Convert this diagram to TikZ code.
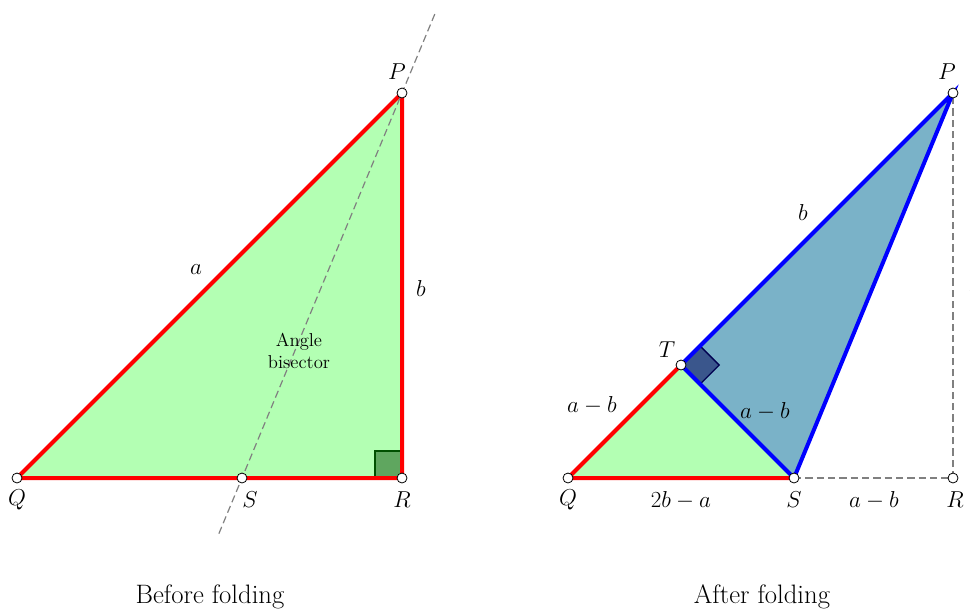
\documentclass[tikz,border=0pt]{standalone}
\usepackage{tikz}
\usetikzlibrary{calc}

\definecolor{paleGreen}{RGB}{179,255,179}
\definecolor{markGreen}{RGB}{95,166,95}
\definecolor{markGreenDark}{RGB}{0,80,0}
\definecolor{paleBlue}{RGB}{122,178,200}
\definecolor{markBlue}{RGB}{58,86,140}
\definecolor{markBlueDark}{RGB}{0,0,80}

\begin{document}
\begin{tikzpicture}[x=0.75pt,y=-0.75pt,
  redEdge/.style={red,line width=3pt},
  blueEdge/.style={blue,line width=3pt},
  foldLine/.style={gray,dash pattern=on 5.5pt off 3pt,line width=0.9pt},
  vertex/.style={circle,draw=black,fill=white,line width=0.6pt,inner sep=0pt,minimum size=7.5pt},
  lab/.style={font=\fontsize{17}{19}\selectfont},
  caption/.style={font=\fontsize{20}{22}\selectfont}]
\useasboundingbox (0,0) rectangle (970,611);

% Before folding: isosceles right triangle, pixel coordinates.
\coordinate (leftQ) at (17,478);
\coordinate (leftR) at (402,478);
\coordinate (leftP) at (402,93);
\coordinate (leftS) at (242,478);
\fill[paleGreen] (leftQ)--(leftR)--(leftP)--cycle;
\draw[markGreenDark,fill=markGreen,line width=1pt] (375,478) rectangle (402,451);
\draw[redEdge] (leftQ)--(leftR)--(leftP)--cycle;
% Bisector through P and S, extended both ways.
\draw[foldLine] ($(leftP)!-0.205!(leftS)$)--($(leftP)!1.148!(leftS)$);

% After folding: PR laid on PQ, T at distance b from P.
\coordinate (rightQ) at (568,478);
\coordinate (rightS) at (794,478);
\coordinate (rightR) at (953,478);
\coordinate (rightP) at (953,93);
\coordinate (rightT) at (681,365);
\fill[paleGreen] (rightQ)--(rightS)--(rightT)--cycle;
\fill[paleBlue] (rightT)--(rightP)--(rightS)--cycle;
\draw[markBlueDark,fill=markBlue,line width=1pt]
  (rightT)--($(rightT)!20.25pt!(rightP)$)
  --($(rightT)!20.25pt!(rightP)+(rightT)!20.25pt!(rightS)-(rightT)$)
  --($(rightT)!20.25pt!(rightS)$)--cycle;
\draw[foldLine] (rightS)--(rightR)--(rightP);
\draw[redEdge] (rightS)--(rightQ)--(rightT);
\draw[blueEdge] (rightT)--(rightP)--(rightS)--cycle;

% Vertices
\foreach \v in {leftQ,leftR,leftP,leftS,rightQ,rightS,rightR,rightP,rightT}{
  \node[vertex] at (\v) {};
}

% Labels, left
\node[lab] (lpLabel) at (397,72) {$P$};
\node[lab] (lqLabel) at (17,500) {$Q$};
\node[lab] (lsLabel) at (250,500) {$S$};
\node[lab] (lrLabel) at (402,500) {$R$};
\node[lab] (laLabel) at (196,270) {$a$};
\node[lab] (lbLabel) at (421,288) {$b$};
\node[font=\fontsize{14}{17}\selectfont,align=center] (bisLabel) at (299,351) {Angle\\bisector};

% Labels, right
\node[lab] (rpLabel) at (947,72) {$P$};
\node[lab] (rtLabel) at (667,350) {$T$};
\node[lab] (rqLabel) at (568,500) {$Q$};
\node[lab] (rsLabel) at (794,500) {$S$};
\node[lab] (rrLabel) at (955,500) {$R$};
\node[lab] (rbLabel) at (803,212) {$b$};
\node[lab] (qtLabel) at (592,405) {$a-b$};
\node[lab] (tsLabel) at (765,411) {$a-b$};
\node[lab] (qsLabel) at (681,500) {$2b-a$};
\node[lab] (srLabel) at (874,500) {$a-b$};
\node[lab] (raLabel) at (975,290) {$a$};

% Captions
\node[caption] (beforeCap) at (210,597) {Before folding};
\node[caption] (afterCap) at (762,597) {After folding};
\end{tikzpicture}
\end{document}
